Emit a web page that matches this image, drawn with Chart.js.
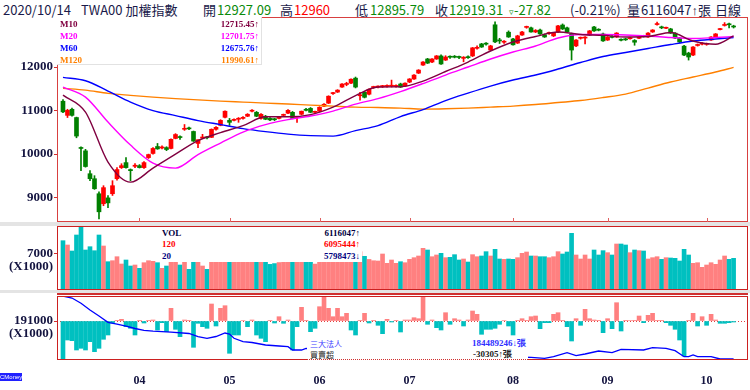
<!DOCTYPE html>
<html>
<head>
<meta charset="utf-8">
<script src="https://cdn.jsdelivr.net/npm/chart.js@4.4.0/dist/chart.umd.min.js"></script>
<style>
  body { margin: 0; background: #fff; width: 750px; height: 390px; overflow: hidden; position: relative; }
  canvas { position: absolute; left: 0; }
  .hd { position: absolute; top: 0; font: 13px/20px "Noto Sans CJK TC", sans-serif; color: #1a1a4a; white-space: nowrap; }
  .g { color: #0a8a0a; }
  .r { color: #ff0000; }
  .ar { font-family: "Liberation Sans", sans-serif; }
  .band { position: absolute; left: 0; width: 750px; background: #e4e4e4; }
  .box { position: absolute; background: #fff; font: bold 9px/12px "Liberation Serif", serif; }
  .box div { position: absolute; white-space: nowrap; }
  .box .v { right: 2px; }
</style>
</head>
<body>

<div class="hd" style="left:3px">2020/10/14</div>
<div class="hd" style="left:81px">TWA00 加權指數</div>
<div class="hd" style="left:203px">開</div>
<div class="hd g" style="left:217px">12927.09</div>
<div class="hd" style="left:280px">高</div>
<div class="hd r" style="left:294px">12960</div>
<div class="hd" style="left:355px">低</div>
<div class="hd g" style="left:370px">12895.79</div>
<div class="hd" style="left:435px">收</div>
<div class="hd g" style="left:449px">12919.31</div>
<div class="hd g" style="left:509px"><span style="font-size:9px">▿</span>-27.82</div>
<div class="hd" style="left:570px">(-0.21%)</div>
<div class="hd" style="left:627px">量</div>
<div class="hd" style="left:641px">6116047<span class="ar">↑</span>張</div>
<div class="hd" style="left:715px">日線</div>

<canvas id="cMain" width="750" height="205" style="top:17px"></canvas>
<div class="band" style="top:222px;height:4px"></div>
<canvas id="cVol" width="750" height="64" style="top:226px"></canvas>
<div class="band" style="top:290px;height:3px"></div>
<div style="position:absolute;left:57px;top:293px;width:691px;height:2px;background:#d03030"></div>
<canvas id="cInst" width="750" height="94" style="top:296px"></canvas>

<div class="box" style="left:57px;top:17px;width:204px;height:47px;border-right:1px solid #e2e2e2;border-bottom:1px solid #e2e2e2">
  <div style="left:3px;top:1px;color:#800040">M10</div><div class="v" style="top:1px;color:#800040">12715.45↑</div>
  <div style="left:3px;top:12.5px;color:#ff00ff">M20</div><div class="v" style="top:12.5px;color:#ff00ff">12701.75↑</div>
  <div style="left:3px;top:25px;color:#0000ff">M60</div><div class="v" style="top:25px;color:#0000ff">12675.76↑</div>
  <div style="left:3px;top:37px;color:#ff8000">M120</div><div class="v" style="top:37px;color:#ff8000">11990.61↑</div>
</div>

<div class="box" style="left:160px;top:227px;width:202px;height:35px">
  <div style="left:2px;top:0px;color:#000040">VOL</div><div class="v" style="top:0px;color:#000040">6116047↑</div>
  <div style="left:2px;top:11px;color:#ff0000">120</div><div class="v" style="top:11px;color:#ff0000">6095444↑</div>
  <div style="left:2px;top:23px;color:#000080">20</div><div class="v" style="top:23px;color:#000080">5798473↓</div>
</div>

<div class="box" style="left:307px;top:338px;width:221px;height:21px;border-bottom:1px dotted #d03030;line-height:11px">
  <div style="left:3px;top:0px;color:#4040ff;font:8px/11px 'Noto Sans CJK TC',sans-serif">三大法人</div>
  <div class="v" style="top:0px;color:#3030ff">184489246↓張</div>
  <div style="left:3px;top:11px;color:#202020;font:8px/11px 'Noto Sans CJK TC',sans-serif">買賣超</div>
  <div class="v" style="top:11px;right:16px;color:#202020">-30305↑張</div>
</div>

<div style="position:absolute;left:0;top:373px;width:22px;height:8px;background:#2020ff;color:#fff;font:6px/8px sans-serif;text-align:center">CMoney</div>

<script>
// daily candles, 2020/03/09 .. 2020/10/14
const open = [
  11215, 10890, 11030, 10840, 10150, 10075, 9550, 9435, 9090, 8860,
  8995, 9090, 9435, 9690, 9805, 9645, 9720, 9735, 9690, 9920,
  10015, 10175, 10140, 10150, 10130, 10360, 10395, 10570, 10600, 10520,
  10245, 10370, 10385, 10385, 10570, 10660, 10845, 10775, 10775, 10800,
  10820, 10870, 10985, 10960, 10820, 10870, 10820, 10800, 10820, 10890,
  10940, 10960, 10840, 10915, 11030, 11050, 10960, 10985, 11100, 11170,
  11390, 11425, 11540, 11600, 11630, 11745, 11340, 11420, 11375, 11530,
  11540, 11550, 11555, 11560, 11555, 11610, 11560, 11655, 11725, 11860,
  12045, 12185, 12115, 12185, 12255, 12160, 12240, 12240, 12235, 12200,
  12230, 12255, 12430, 12530, 12540, 12390, 12970, 12620, 12570, 12800,
  12645, 12550, 12735, 12910, 12900, 12805, 12850, 12740, 12770, 12715,
  12805, 12965, 12900, 12760, 12485, 12660, 12665, 12735, 12920, 12860,
  12760, 12620, 12695, 12690, 12625, 12640, 12650, 12610, 12660, 12710,
  12690, 12805, 12975, 12920, 12890, 12875, 12780, 12665, 12480, 12320,
  12275, 12495, 12525, 12520, 12620, 12690, 12860, 12955, 12990, 12927.09
];
const high = [
  11250, 11030, 11060, 10850, 10170, 10110, 9620, 9505, 9135, 9275,
  9045, 9390, 9690, 9780, 9920, 9660, 9780, 9760, 9830, 10000,
  10150, 10245, 10190, 10170, 10350, 10470, 10420, 10680, 10620, 10530,
  10330, 10455, 10400, 10580, 10630, 10790, 10995, 10820, 10810, 10840,
  10860, 10930, 11020, 10980, 10930, 10890, 10840, 10820, 10860, 10920,
  11020, 10980, 10870, 10990, 11050, 11070, 10990, 11090, 11160, 11340,
  11420, 11480, 11620, 11650, 11730, 11770, 11420, 11440, 11500, 11560,
  11570, 11580, 11590, 11700, 11590, 11630, 11640, 11735, 11825, 11940,
  12125, 12200, 12195, 12265, 12280, 12260, 12260, 12265, 12250, 12240,
  12260, 12450, 12485, 12545, 12560, 12500, 13040, 12660, 12610, 12830,
  12660, 12730, 12820, 12940, 12920, 12860, 12870, 12760, 12800, 12790,
  12955, 12990, 12920, 12780, 12630, 12690, 12700, 12840, 12935, 12880,
  12780, 12700, 12720, 12790, 12650, 12660, 12680, 12630, 12690, 12730,
  12790, 12860, 13030, 12940, 12920, 12890, 12790, 12680, 12500, 12340,
  12470, 12530, 12560, 12550, 12700, 12770, 12890, 13020, 13010, 12960
];
const low = [
  10950, 10840, 10870, 10375, 9620, 9700, 9390, 9190, 8513, 8815,
  8770, 9050, 9400, 9670, 9680, 9390, 9690, 9680, 9670, 9900,
  10000, 10110, 10120, 10080, 10120, 10350, 10340, 10545, 10560, 10290,
  10150, 10360, 10350, 10380, 10550, 10650, 10830, 10660, 10760, 10730,
  10800, 10860, 10970, 10860, 10800, 10790, 10770, 10770, 10810, 10880,
  10930, 10810, 10730, 10900, 10990, 10950, 10940, 10970, 11090, 11160,
  11370, 11415, 11530, 11570, 11620, 11520, 11240, 11290, 11360, 11510,
  11520, 11530, 11540, 11540, 11540, 11530, 11550, 11640, 11715, 11850,
  12035, 12080, 12100, 12175, 12060, 12150, 12200, 12210, 12190, 12120,
  12200, 12240, 12410, 12450, 12500, 12380, 12560, 12540, 12540, 12680,
  12500, 12540, 12725, 12890, 12800, 12790, 12750, 12680, 12750, 12700,
  12790, 12860, 12790, 12160, 12470, 12640, 12530, 12720, 12820, 12830,
  12590, 12610, 12670, 12680, 12600, 12610, 12640, 12500, 12650, 12690,
  12680, 12795, 12960, 12880, 12880, 12770, 12650, 12560, 12260, 12160,
  12260, 12480, 12510, 12500, 12610, 12680, 12850, 12940, 12900, 12895.79
];
const close = [
  10970, 11005, 10890, 10415, 10130, 9715, 9435, 9205, 8675, 9230,
  8880, 9275, 9645, 9735, 9690, 9620, 9745, 9690, 9805, 9990,
  10130, 10120, 10165, 10105, 10340, 10450, 10380, 10590, 10580, 10300,
  10330, 10385, 10375, 10570, 10615, 10775, 10985, 10730, 10790, 10820,
  10845, 10915, 11005, 10870, 10915, 10800, 10785, 10790, 10845, 10900,
  11005, 10820, 10860, 10985, 11005, 10960, 10980, 11075, 11145, 11330,
  11400, 11470, 11610, 11615, 11720, 11540, 11360, 11305, 11490, 11545,
  11550, 11560, 11570, 11580, 11565, 11540, 11630, 11725, 11815, 11930,
  12115, 12090, 12185, 12255, 12070, 12230, 12225, 12225, 12220, 12225,
  12215, 12440, 12445, 12460, 12525, 12485, 12577, 12600, 12590, 12690,
  12510, 12715, 12805, 12920, 12805, 12840, 12760, 12690, 12780, 12780,
  12945, 12875, 12805, 12390, 12620, 12670, 12680, 12830, 12830, 12845,
  12600, 12690, 12680, 12780, 12615, 12625, 12665, 12570, 12675, 12700,
  12780, 12850, 12990, 12900, 12905, 12780, 12665, 12575, 12275, 12230,
  12460, 12510, 12535, 12535, 12690, 12760, 12875, 12965, 12970, 12919.31
];

// volume, x1000
const volume = [
  9517, 8687, 7529, 10618, 12104, 7722, 8359, 7587, 10618, 8494,
  5463, 5656, 6429, 5019, 5792, 4633, 4826, 4183, 5270, 5656,
  5540, 5270, 4183, 4633, 6100, 6300, 4826, 5900, 3990, 6200,
  5800, 4633, 3990, 6000, 6400, 7000, 7800, 7200, 5900, 5600,
  5400, 6100, 6800, 6300, 5900, 5500, 4950, 5100, 5300, 5600,
  6600, 6900, 5700, 6200, 5900, 5700, 5000, 6100, 6500, 7400,
  6900, 6700, 7600, 6900, 7700, 8600, 7400, 6500, 5900, 5650,
  5598, 6950, 5154, 5792, 5154, 5463, 5270, 5920, 6240, 6564,
  8050, 7722, 6429, 6757, 7079, 6240, 6307, 6822, 5792, 5985,
  5400, 6822, 6429, 6564, 7400, 6564, 7850, 5985, 5920, 5985,
  5920, 6240, 7079, 7336, 6564, 6564, 6429, 6429, 6240, 6429,
  7400, 6950, 7336, 10940, 6757, 5985, 6757, 5985, 7722, 6757,
  7594, 7207, 6757, 8880, 8880, 8687, 7207, 7722, 7594, 7529,
  5985, 6240, 6429, 5920, 6240, 6178, 6113, 5598, 7850, 6757,
  5154, 5270, 4376, 4826, 5270, 4955, 5792, 6564, 5920, 6116
];

// 三大法人 net buy/sell, x1000
const instNet = [
  -1149, -570, -591, -870, -819, -870, -621, -921, -819, -549,
  -420, -60, 9, 51, -171, -219, -420, 9, -60, 9,
  30, -270, -51, -321, 381, -249, -471, 30, 9, -789,
  -69, -171, -219, 510, -150, 381, 459, -969, -420, -420,
  15, -171, 30, -420, -519, -621, 9, -60, 129, -69,
  30, -870, -171, 411, 9, -321, -219, 429, 729, 381,
  129, 381, 129, 231, -270, -420, 9, 231, -60, 9,
  -129, -381, 51, -30, 9, -330, 30, 30, 99, 69,
  740, -99, 30, -201, -270, 249, -99, 69, 30, -150,
  30, 300, 201, -399, -249, -249, -219, -99, 15, -150,
  -420, 9, 69, 9, 129, 150, -231, -51, -51, 201,
  249, 9, -171, -600, 69, -129, 351, 69, 30, 9,
  -351, 69, -231, 549, -300, 9, 15, 9, 150, -51,
  171, 231, 9, 9, -51, -129, -249, -570, -1050, 9,
  231, -150, 129, -129, 201, 30, -69, -69, -51, -30
];

// cumulative holding line, sampled
const cumIdx = [0, 2, 4, 6, 8, 10, 12, 14, 16, 18, 20, 24, 28, 30, 32, 34, 36, 37, 38, 40, 42, 45, 48, 50, 51, 53, 54,
  60, 70, 80, 90, 100, 104, 107, 109, 112, 114, 116, 119, 122, 124, 129, 131, 134, 136, 138, 139, 140, 141, 144, 146, 149];
const cumVal = [191000, 190800, 190270, 189600, 189000, 188370, 188180, 187980, 187750, 187570, 187480, 187380, 187250,
  186930, 186770, 186950, 187300, 187200, 186770, 186430, 186350, 186100, 186000, 185930, 185600, 185600, 185770,
  185500, 185300, 185200, 185000, 184900, 184870, 184770, 184930, 185330, 185030, 185200, 185500, 185330, 185670,
  185600, 185830, 185770, 185530, 184930, 184930, 185100, 184930, 184930, 184700, 184700];

// moving averages read every 5 bars
const maIdx = [0, 5, 10, 15, 20, 25, 30, 35, 40, 45, 50, 55, 60, 65, 70, 75, 80, 85, 90, 95, 100, 105, 110, 115, 120, 125, 130, 135, 140, 145, 149];
const m10 = [11356, 10966, 9816, 9356, 9678, 10000, 10310, 10494, 10655, 10857, 10857, 10908, 11080, 11345, 11540, 11547,
  11678, 11897, 12115, 12368, 12575, 12701, 12805, 12747, 12729, 12690, 12701, 12793, 12598, 12522, 12713];
const m20 = [11540, 11310, 10736, 10207, 9793, 9678, 9988, 10253, 10506, 10678, 10793, 10874, 10988, 11149, 11276, 11437,
  11621, 11816, 12000, 12184, 12345, 12483, 12667, 12747, 12747, 12736, 12713, 12678, 12655, 12678, 12702];
const m60 = [11763, 11685, 11448, 11195, 11000, 10885, 10770, 10678, 10586, 10517, 10460, 10425, 10414, 10540, 10655, 10863,
  11023, 11230, 11402, 11563, 11701, 11816, 11954, 12103, 12241, 12333, 12425, 12517, 12598, 12644, 12676];
const m120 = [11510, 11470, 11395, 11350, 11310, 11275, 11245, 11218, 11195, 11172, 11150, 11126, 11103, 11080, 11069, 11057,
  11034, 11041, 11057, 11080, 11103, 11138, 11184, 11230, 11299, 11379, 11517, 11655, 11770, 11885, 11991];

const monthIdx = [17, 37, 57, 77, 100, 121, 143];
const monthLbl = ['04', '05', '06', '07', '08', '09', '10'];
const priceTicks = [9000, 10000, 11000, 12000];

const RED = '#ff0000', GREEN = '#008000', PINK = '#ff8080', TEAL = '#00c0c0';
const xMin = -1.33, xMax = 152.2;
const idx = open.map((_, i) => i);
const isUp = idx.map(i => close[i] >= open[i]);
const axisFont = { family: '"Liberation Serif", serif', size: 13, weight: 'bold' };
const axisColor = '#141440';

const fixY = s => { s.width = 57; s.paddingTop = 0; s.paddingBottom = 0; };
const onlyTicks = vals => s => { s.ticks = vals.map(v => ({ value: v })); };

const framePlugin = {
    id: 'frame',
    beforeDatasetsDraw(chart, args, opts) {
        if (!opts.zero) return;
        const { ctx, chartArea: a } = chart;
        const y0 = Math.round(chart.scales.y.getPixelForValue(0)) + 0.5;
        ctx.save();
        ctx.strokeStyle = '#e04040';
        ctx.setLineDash([1, 2]);
        ctx.beginPath();
        ctx.moveTo(a.left, y0);
        ctx.lineTo(a.right, y0);
        ctx.stroke();
        ctx.restore();
    },
    afterDraw(chart, args, opts) {
        const { ctx, chartArea: a } = chart;
        ctx.save();
        ctx.strokeStyle = opts.color;
        ctx.lineWidth = 1;
        ctx.strokeRect(a.left + 0.5, a.top + 0.5, a.width - 1, a.height - 1);
        if (opts.marks) {
            ctx.strokeStyle = '#e06060';
            monthIdx.forEach(v => {
                const x = Math.round(chart.scales.x.getPixelForValue(v)) + 0.5;
                ctx.beginPath();
                ctx.moveTo(x, a.bottom - 4);
                ctx.lineTo(x, a.bottom);
                ctx.stroke();
            });
        }
        if (opts.sub) {
            ctx.fillStyle = axisColor;
            ctx.font = 'bold 13px "Liberation Serif", serif';
            ctx.textAlign = 'right';
            ctx.textBaseline = 'middle';
            ctx.fillText(opts.sub.text, a.left - 4, chart.scales.y.getPixelForValue(opts.sub.value) + 12.5);
        }
        ctx.restore();
    }
};

const baseOptions = () => ({
    responsive: false,
    animation: false,
    events: [],
    layout: { padding: { left: 0, right: 2, top: 0, bottom: 0 } },
    plugins: { legend: { display: false }, tooltip: { enabled: false } }
});

const yTickStyle = { font: axisFont, color: axisColor, padding: 1, callback: v => String(v) };
const yGrid = { drawOnChartArea: false, tickLength: 3, color: '#d03030' };

function maLine(values, color) {
    return {
        type: 'line',
        data: maIdx.map((x, k) => ({ x, y: values[k] })),
        borderColor: color,
        borderWidth: 1.4,
        pointRadius: 0,
        cubicInterpolationMode: 'monotone',
        order: 0
    };
}

// price panel
const mainOpts = baseOptions();
mainOpts.plugins.frame = { color: '#d84040', marks: true };
mainOpts.scales = {
    x: { type: 'linear', min: xMin, max: xMax, display: false, offset: false },
    y: {
        min: 8441, max: 13149,
        afterFit: fixY,
        afterBuildTicks: onlyTicks(priceTicks),
        grid: yGrid,
        border: { display: false },
        ticks: yTickStyle
    }
};
new Chart(document.getElementById('cMain'), {
    type: 'bar',
    data: {
        datasets: [
            maLine(m10, '#800040'),
            maLine(m20, '#ff00ff'),
            maLine(m60, '#0000ff'),
            maLine(m120, '#ff8000'),
            {
                data: idx.map(i => ({ x: i, y: [open[i], close[i]] })),
                backgroundColor: idx.map(i => isUp[i] ? RED : GREEN),
                barThickness: 4, minBarLength: 1, grouped: false, order: 1
            },
            {
                data: idx.map(i => ({ x: i, y: [low[i], high[i]] })),
                backgroundColor: idx.map(i => isUp[i] ? RED : GREEN),
                barThickness: 1, grouped: false, order: 2
            }
        ]
    },
    options: mainOpts,
    plugins: [framePlugin]
});

// volume panel
const volOpts = baseOptions();
volOpts.plugins.frame = { color: '#cc2020', sub: { value: 7000, text: '(X1000)' } };
volOpts.scales = {
    x: { type: 'linear', min: xMin, max: xMax, display: false, offset: false },
    y: {
        min: 0, max: 12355,
        afterFit: fixY,
        afterBuildTicks: onlyTicks([7000]),
        grid: yGrid,
        border: { display: false },
        ticks: yTickStyle
    }
};
new Chart(document.getElementById('cVol'), {
    type: 'bar',
    data: {
        datasets: [{
            data: idx.map(i => ({ x: i, y: volume[i] })),
            backgroundColor: idx.map(i => isUp[i] ? PINK : TEAL),
            barThickness: 4, grouped: false
        }]
    },
    options: volOpts,
    plugins: [framePlugin]
});

// institutional panel
const instOpts = baseOptions();
instOpts.plugins.frame = { color: '#cc2020', zero: true, sub: { value: 0, text: '(X1000)' } };
instOpts.scales = {
    x: {
        type: 'linear', min: xMin, max: xMax, offset: false,
        afterFit: s => { s.height = 30; s.paddingLeft = 0; s.paddingRight = 0; },
        afterBuildTicks: onlyTicks(monthIdx),
        grid: { display: false },
        border: { display: false },
        ticks: {
            autoSkip: false, maxRotation: 0, padding: 6,
            font: { family: '"Liberation Serif", serif', size: 12, weight: 'bold' },
            color: axisColor,
            callback: v => monthLbl[monthIdx.indexOf(v)]
        }
    },
    y: {
        min: -1170, max: 750,
        afterFit: fixY,
        afterBuildTicks: onlyTicks([0]),
        grid: yGrid,
        border: { display: false },
        ticks: { font: axisFont, color: axisColor, padding: 1, callback: () => '191000' }
    },
    y2: { min: 184600, max: 191000, display: false }
};
new Chart(document.getElementById('cInst'), {
    type: 'bar',
    data: {
        datasets: [
            {
                type: 'line',
                data: cumIdx.map((x, k) => ({ x, y: cumVal[k] })),
                yAxisID: 'y2',
                borderColor: '#0000ff',
                borderWidth: 1.3,
                pointRadius: 0,
                tension: 0,
                order: 0
            },
            {
                data: idx.map(i => ({ x: i, y: instNet[i] })),
                backgroundColor: idx.map(i => instNet[i] >= 0 ? PINK : TEAL),
                barThickness: 4, grouped: false, order: 1
            }
        ]
    },
    options: instOpts,
    plugins: [framePlugin]
});
</script>
</body>
</html>
